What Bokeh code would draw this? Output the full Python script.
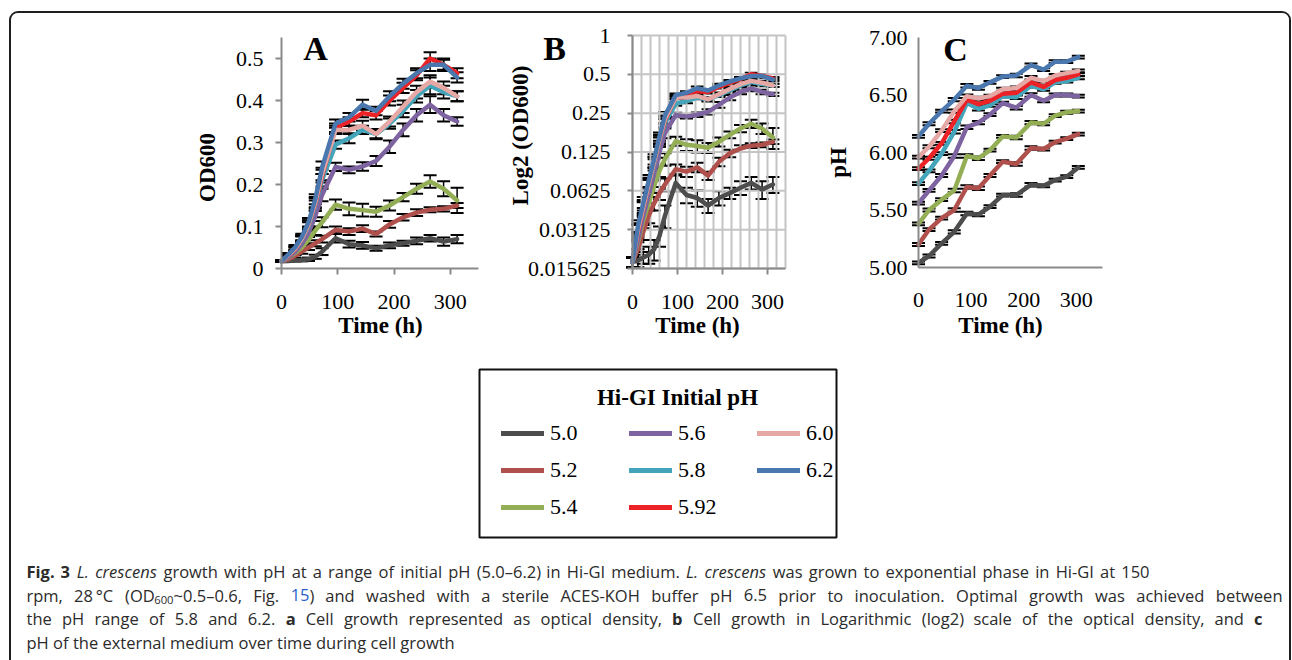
import numpy as np
from bokeh.plotting import figure
from bokeh.layouts import column, row
from bokeh.models import (Range1d, FixedTicker, Whisker, TeeHead, ColumnDataSource, Label,
                          Legend, LegendItem, Spacer, NumeralTickFormatter)
from bokeh.embed import file_html
from bokeh.resources import INLINE

# ---------------- data ----------------
ph_labels = ["5.0", "5.2", "5.4", "5.6", "5.8", "5.92", "6.0", "6.2"]
colors = ["#4d4d4d", "#b0504d", "#94ae56", "#7d63a0", "#44a4ba", "#ec2227", "#e6a8a5", "#4977ae"]

time_od = [0, 12, 24, 36, 48, 60, 72, 96, 120, 144, 168, 192, 216, 240, 264, 288, 312]
od_50 = [0.0175, 0.018, 0.019, 0.020, 0.022, 0.028, 0.040, 0.072, 0.058, 0.055, 0.048, 0.055, 0.060, 0.066, 0.072, 0.064, 0.070]
od_52 = [0.0175, 0.022, 0.030, 0.040, 0.050, 0.060, 0.070, 0.092, 0.088, 0.095, 0.082, 0.105, 0.122, 0.133, 0.140, 0.142, 0.150]
od_54 = [0.0175, 0.025, 0.037, 0.050, 0.068, 0.090, 0.110, 0.152, 0.142, 0.139, 0.135, 0.150, 0.170, 0.190, 0.207, 0.190, 0.162]
od_56 = [0.0175, 0.026, 0.040, 0.058, 0.085, 0.125, 0.175, 0.242, 0.235, 0.243, 0.256, 0.290, 0.330, 0.365, 0.390, 0.365, 0.350]
od_58 = [0.0175, 0.030, 0.045, 0.068, 0.100, 0.150, 0.210, 0.295, 0.310, 0.330, 0.320, 0.345, 0.375, 0.410, 0.435, 0.420, 0.410]
od_592 = [0.0175, 0.030, 0.046, 0.070, 0.104, 0.155, 0.220, 0.335, 0.350, 0.370, 0.365, 0.400, 0.430, 0.460, 0.500, 0.485, 0.465]
od_60 = [0.0175, 0.031, 0.047, 0.071, 0.105, 0.158, 0.225, 0.330, 0.330, 0.340, 0.320, 0.350, 0.385, 0.420, 0.445, 0.430, 0.410]
od_62 = [0.0175, 0.033, 0.050, 0.075, 0.110, 0.165, 0.240, 0.345, 0.360, 0.390, 0.375, 0.410, 0.440, 0.465, 0.485, 0.485, 0.455]

err_50 = [0.0015, 0.002, 0.002, 0.003, 0.004, 0.005, 0.008, 0.010, 0.008, 0.008, 0.006, 0.007, 0.006, 0.008, 0.008, 0.010, 0.010]
err_52 = [0.0015, 0.003, 0.004, 0.005, 0.006, 0.007, 0.008, 0.008, 0.008, 0.008, 0.006, 0.008, 0.008, 0.008, 0.006, 0.006, 0.006]
err_54 = [0.0015, 0.003, 0.005, 0.006, 0.008, 0.010, 0.012, 0.012, 0.015, 0.015, 0.012, 0.012, 0.010, 0.012, 0.015, 0.018, 0.030]
err_56 = [0.0015, 0.004, 0.006, 0.008, 0.010, 0.012, 0.015, 0.010, 0.008, 0.010, 0.012, 0.015, 0.015, 0.015, 0.020, 0.015, 0.010]
err_58 = [0.0015, 0.004, 0.006, 0.008, 0.010, 0.012, 0.015, 0.010, 0.012, 0.010, 0.010, 0.012, 0.015, 0.015, 0.020, 0.015, 0.012]
err_592 = [0.0015, 0.004, 0.006, 0.008, 0.010, 0.012, 0.015, 0.010, 0.010, 0.010, 0.010, 0.012, 0.012, 0.012, 0.015, 0.012, 0.012]
err_60 = [0.0015, 0.004, 0.006, 0.008, 0.010, 0.012, 0.015, 0.010, 0.010, 0.012, 0.012, 0.012, 0.015, 0.015, 0.015, 0.015, 0.012]
err_62 = [0.0015, 0.004, 0.006, 0.008, 0.010, 0.012, 0.015, 0.010, 0.010, 0.012, 0.010, 0.012, 0.012, 0.012, 0.015, 0.015, 0.012]

time_ph = [0, 20, 44, 68, 92, 114, 136, 160, 186, 214, 238, 260, 282, 304]
ph_50 = [5.04, 5.10, 5.21, 5.31, 5.47, 5.46, 5.53, 5.63, 5.63, 5.72, 5.71, 5.76, 5.79, 5.87]
ph_52 = [5.20, 5.33, 5.43, 5.50, 5.70, 5.69, 5.80, 5.92, 5.90, 6.04, 6.03, 6.09, 6.12, 6.16]
ph_54 = [5.38, 5.50, 5.59, 5.67, 5.97, 5.95, 6.02, 6.14, 6.13, 6.26, 6.25, 6.32, 6.35, 6.36]
ph_56 = [5.56, 5.67, 5.80, 5.97, 6.22, 6.26, 6.33, 6.43, 6.39, 6.50, 6.45, 6.50, 6.50, 6.49]
ph_58 = [5.73, 5.84, 5.99, 6.18, 6.43, 6.38, 6.41, 6.49, 6.48, 6.58, 6.55, 6.61, 6.62, 6.65]
ph_592 = [5.86, 5.95, 6.08, 6.27, 6.46, 6.42, 6.45, 6.51, 6.52, 6.61, 6.57, 6.63, 6.65, 6.68]
ph_60 = [5.96, 6.05, 6.19, 6.36, 6.49, 6.47, 6.49, 6.55, 6.56, 6.65, 6.62, 6.67, 6.69, 6.71]
ph_62 = [6.14, 6.25, 6.36, 6.46, 6.58, 6.56, 6.61, 6.66, 6.67, 6.76, 6.72, 6.79, 6.79, 6.83]
ph_err = [0.012, 0.012, 0.012, 0.015, 0.015, 0.015, 0.012, 0.012, 0.015, 0.015, 0.012, 0.012, 0.012, 0.012]

od_series = [od_50, od_52, od_54, od_56, od_58, od_592, od_60, od_62]
od_errs = [err_50, err_52, err_54, err_56, err_58, err_592, err_60, err_62]
ph_series = [ph_50, ph_52, ph_54, ph_56, ph_58, ph_592, ph_60, ph_62]

a_ticks = [0, 0.1, 0.2, 0.3, 0.4, 0.5]
a_tick_text = ["0", "0.1", "0.2", "0.3", "0.4", "0.5"]
b_ticks = [0.015625, 0.03125, 0.0625, 0.125, 0.25, 0.5, 1]
b_tick_text = ["0.015625", "0.03125", "0.0625", "0.125", "0.25", "0.5", "1"]
c_ticks = [5.0, 5.5, 6.0, 6.5, 7.0]
x_ticks = [0, 100, 200, 300]
b_grid_x = list(range(0, 341, 20))

SERIF = "Liberation Serif"
SANS = "Open Sans"
AXIS_GRAY = "#8a8a8a"
GRID_GRAY = "#c4c4c4"

# page geometry
X0, Y0 = 11, 13          # content-box origin (inside the rounded border)
ROW_H = 350
CONTENT_W = 1278
WA, WB = 489, 320
WC = CONTENT_W - WA - WB


class Panel:
    """A figure whose frame fills its whole canvas; data ranges are set so that the
    axes land where the reference puts them (page pixel coordinates)."""

    def __init__(self, cx0, cw, xmap, ymap, xlim, ylim, ylog=False):
        self.cx0, self.cx1 = cx0, cx0 + cw
        self.cy0, self.cy1 = Y0, Y0 + ROW_H
        self.xmap, self.ymap, self.ylog = xmap, ymap, ylog
        xr = (self.px_to_x(self.cx0), self.px_to_x(self.cx1))
        yr = (self.py_to_y(self.cy1), self.py_to_y(self.cy0))
        p = figure(width=cw, height=ROW_H, x_range=Range1d(*xr), y_range=Range1d(*yr),
                   y_axis_type="log" if ylog else "linear", output_backend="svg",
                   toolbar_location=None, min_border=0, title=None)
        p.outline_line_color = None
        p.background_fill_color = "white"
        p.border_fill_color = "white"
        p.xgrid.visible = False
        p.ygrid.visible = False
        for ax in (p.xaxis[0], p.yaxis[0]):
            ax.axis_line_color = AXIS_GRAY
            ax.axis_line_width = 2
            ax.major_tick_line_color = AXIS_GRAY
            ax.major_tick_line_width = 2
            ax.major_tick_in = 0
            ax.major_tick_out = 6
            ax.minor_tick_line_color = None
            ax.major_label_text_font = SERIF
            ax.major_label_text_font_size = "22px"
            ax.major_label_text_color = "black"
        p.xaxis.fixed_location = ylim[0]
        p.yaxis.fixed_location = xlim[0]
        p.xaxis.bounds = xlim
        p.yaxis.bounds = ylim
        p.xaxis.ticker = FixedTicker(ticks=x_ticks)
        self.p = p

    def px_to_x(self, px):
        (p0, v0), (p1, v1) = self.xmap
        return v0 + (px - p0) * (v1 - v0) / (p1 - p0)

    def py_to_y(self, py):
        (p0, v0), (p1, v1) = self.ymap
        if self.ylog:
            l0, l1 = np.log2(v0), np.log2(v1)
            return float(2 ** (l0 + (py - p0) * (l1 - l0) / (p1 - p0)))
        return v0 + (py - p0) * (v1 - v0) / (p1 - p0)

    def text(self, px, py, text, size, bold=True, angle=0.0):
        self.p.add_layout(Label(x=self.px_to_x(px), y=self.py_to_y(py), text=text,
                                text_font=SERIF, text_font_size=size,
                                text_font_style="bold" if bold else "normal",
                                text_align="center", text_baseline="middle", angle=angle,
                                text_color="black"))


def add_series(p, times, ys, errs, color):
    r = p.line(times, ys, line_color=color, line_width=4.5, line_join="round", line_cap="round")
    src = ColumnDataSource(dict(x=times, lo=[v - e for v, e in zip(ys, errs)],
                                hi=[v + e for v, e in zip(ys, errs)]))
    p.add_layout(Whisker(source=src, base="x", lower="lo", upper="hi", line_color="black",
                         line_width=1.5,
                         upper_head=TeeHead(size=13, line_color="black", line_width=2),
                         lower_head=TeeHead(size=13, line_color="black", line_width=2)))
    return r


# ---------------- panel A ----------------
A = Panel(X0, WA, ((281, 0), (478, 350)), ((268, 0), (37, 0.55)), (0, 350), (0, 0.55))
pA = A.p
pA.yaxis.ticker = FixedTicker(ticks=a_ticks)
pA.yaxis.major_label_overrides = {t: s for t, s in zip(a_ticks, a_tick_text)}
pA.yaxis.major_label_standoff = 12
pA.xaxis.major_label_standoff = 20
for ys, es, c in zip(od_series, od_errs, colors):
    add_series(pA, time_od, ys, es, c)
A.text(315, 48, "A", "34px")
A.text(207, 167, "OD600", "23px", angle=np.pi / 2)
A.text(380, 325, "Time (h)", "23px")

# ---------------- panel B ----------------
B = Panel(X0 + WA, WB, ((632, 0), (785, 340)), ((268, 0.015625), (35, 1.0)), (0, 340),
          (0.015625, 1.0), ylog=True)
pB = B.p
pB.yaxis.ticker = FixedTicker(ticks=b_ticks)
pB.yaxis.major_label_overrides = {t: s for t, s in zip(b_ticks, b_tick_text)}
pB.yaxis.major_tick_out = 5
pB.yaxis.major_label_standoff = 17
pB.xaxis.major_label_standoff = 20
pB.segment(x0=b_grid_x, x1=b_grid_x, y0=[b_ticks[0]] * len(b_grid_x), y1=[b_ticks[-1]] * len(b_grid_x),
           line_color=GRID_GRAY, line_width=2)
pB.segment(x0=[0] * len(b_ticks), x1=[b_grid_x[-1]] * len(b_ticks), y0=b_ticks, y1=b_ticks,
           line_color=GRID_GRAY, line_width=2)
for ys, es, c in zip(od_series, od_errs, colors):
    add_series(pB, time_od, ys, es, c)
B.text(554, 48, "B", "34px")
B.text(520, 135, "Log2 (OD600)", "23px", angle=np.pi / 2)
B.text(697, 325, "Time (h)", "23px")

# ---------------- panel C ----------------
C = Panel(X0 + WA + WB, WC, ((918, 0), (1102, 350)), ((267, 5.0), (37, 7.0)), (0, 350), (5.0, 7.0))
pC = C.p
pC.yaxis.ticker = FixedTicker(ticks=c_ticks)
pC.yaxis.formatter = NumeralTickFormatter(format="0.00")
pC.yaxis.major_tick_out = 0
pC.xaxis.major_tick_out = 0
pC.yaxis.major_label_standoff = 11
pC.xaxis.major_label_standoff = 25
for ys, c in zip(ph_series, colors):
    add_series(pC, time_ph, ys, ph_err, c)
C.text(955, 49, "C", "34px")
C.text(838, 162, "pH", "23px", angle=np.pi / 2)
C.text(1000, 325, "Time (h)", "23px")

top_row = row(pA, pB, pC, spacing=0)

# ---------------- legend box ----------------
LEG_W, LEG_H = 363, 180
pL = figure(width=LEG_W, height=LEG_H, x_range=Range1d(-2, -1), y_range=Range1d(0, 168),
            output_backend="svg", toolbar_location=None, min_border_left=3, min_border_right=3,
            min_border_top=6, min_border_bottom=6, title=None)
pL.axis.visible = False
pL.grid.visible = False
pL.outline_line_color = "#111111"
pL.outline_line_width = 2
pL.border_fill_color = "white"
items = []
for lab, ys, c in zip(ph_labels, od_series, colors):
    r = pL.line(time_od, ys, line_color=c, line_width=5, line_cap="round")
    items.append(LegendItem(label=lab, renderers=[r]))
leg = Legend(items=items, location=(22, 14), orientation="vertical", nrows=3,
             glyph_width=43, glyph_height=20, label_standoff=6, label_width=74, label_height=32,
             spacing=5, padding=0, margin=0, border_line_color=None, background_fill_alpha=0,
             label_text_font=SERIF, label_text_font_size="22px", label_text_color="black")
pL.add_layout(leg)
pL.add_layout(Label(x=-2 + (677 - 479) / 357.0, y=168 - (397 - 369), text="Hi-GI Initial pH",
                    text_font=SERIF, text_font_size="23px", text_font_style="bold",
                    text_align="center", text_baseline="middle", text_color="black"))
mid_row = row(Spacer(width=465, height=LEG_H), pL,
              Spacer(width=CONTENT_W - 465 - LEG_W, height=LEG_H), spacing=0)

# ---------------- caption ----------------
CAP_TOP = Y0 + ROW_H + LEG_H
CAP_H = 140
pT = figure(width=CONTENT_W, height=CAP_H, x_range=Range1d(X0, X0 + CONTENT_W),
            y_range=Range1d(CAP_TOP + CAP_H, CAP_TOP), output_backend="svg", toolbar_location=None,
            min_border=0, title=None)
pT.axis.visible = False
pT.grid.visible = False
pT.outline_line_color = None
pT.border_fill_color = "white"

TXT = "#2b2b2b"
LINK = "#2a62c9"
CAP_SIZE = 16.5

# approximate Open Sans advance widths (units per em = 2048), used only to place words
_W = {' ': 532, '(': 545, ')': 545, ',': 502, '-': 659, '.': 545, '~': 1171, '\u2013': 1024,
      '\u00b0': 877, '\u2009': 400,
      'A': 1296, 'C': 1292, 'E': 1139, 'F': 1057, 'G': 1491, 'H': 1511, 'I': 571, 'K': 1257,
      'L': 1077, 'O': 1595, 'D': 1493, 'S': 1114,
      'a': 1139, 'b': 1255, 'c': 975, 'd': 1255, 'e': 1149, 'f': 694, 'g': 1122, 'h': 1257,
      'i': 518, 'j': 518, 'k': 1075, 'l': 518, 'm': 1905, 'n': 1257, 'o': 1237, 'p': 1255,
      'q': 1255, 'r': 836, 's': 977, 't': 723, 'u': 1257, 'v': 1026, 'w': 1593, 'x': 1073,
      'y': 1028, 'z': 977}
for _d in "0123456789":
    _W[_d] = 1171


def run_width(text, style, size):
    w = sum(_W.get(ch, 1150) for ch in text) / 2048.0 * size
    if style == "bold":
        w *= 1.07
    elif style == "italic":
        w *= 0.93
    return w


def W(text, style="normal", color=TXT, scale=1.0, dy=0.0):
    return (text, style, color, scale, dy)


def plain(s):
    return [[W(t)] for t in s.split(" ")]


caption_lines = [
    (571.0, 1149, [[W("Fig.", "bold")], [W("3", "bold")], [W("L.", "italic")], [W("crescens", "italic")]]
     + plain("growth with pH at a range of initial pH (5.0\u20136.2) in Hi-GI medium.")
     + [[W("L.", "italic")], [W("crescens", "italic")]]
     + plain("was grown to exponential phase in Hi-GI at 150")),
    (594.5, 1282, [[W("rpm,")], [W("28\u2009\u00b0C")],
                   [W("(OD"), W("600", scale=0.68, dy=4.5), W("~0.5\u20130.6,")], [W("Fig.")],
                   [W("15", color=LINK), W(")")]]
     + plain("and washed with a sterile ACES-KOH buffer pH 6.5 prior to inoculation. Optimal growth was achieved between")),
    (618.0, 1262, plain("the pH range of 5.8 and 6.2.") + [[W("a", "bold")]]
     + plain("Cell growth represented as optical density,") + [[W("b", "bold")]]
     + plain("Cell growth in Logarithmic (log2) scale of the optical density, and") + [[W("c", "bold")]]),
    (641.5, None, plain("pH of the external medium over time during cell growth")),
]

for y, end, words in caption_lines:
    widths = [sum(run_width(t, st, CAP_SIZE * sc) for t, st, col, sc, dy in wd) for wd in words]
    if end is None:
        gap = _W[' '] / 2048.0 * CAP_SIZE
    else:
        gap = (end - 26 - sum(widths)) / (len(words) - 1)
    x = 26.0
    for wd, w in zip(words, widths):
        rx = x
        for t, st, col, sc, dy in wd:
            pT.add_layout(Label(x=rx, y=y + dy, text=t, text_font=SANS,
                                text_font_size="%.1fpx" % (CAP_SIZE * sc), text_font_style=st,
                                text_color=col, text_align="left", text_baseline="alphabetic"))
            rx += run_width(t, st, CAP_SIZE * sc)
        x += w + gap

root = column(top_row, mid_row, pT, spacing=0, margin=(11, 0, 0, 9),
              styles={"border": "2px solid #1e1e1e", "border-radius": "9px", "overflow": "hidden",
                      "background": "white"})

open("out.html", "w").write(file_html(root, INLINE))
